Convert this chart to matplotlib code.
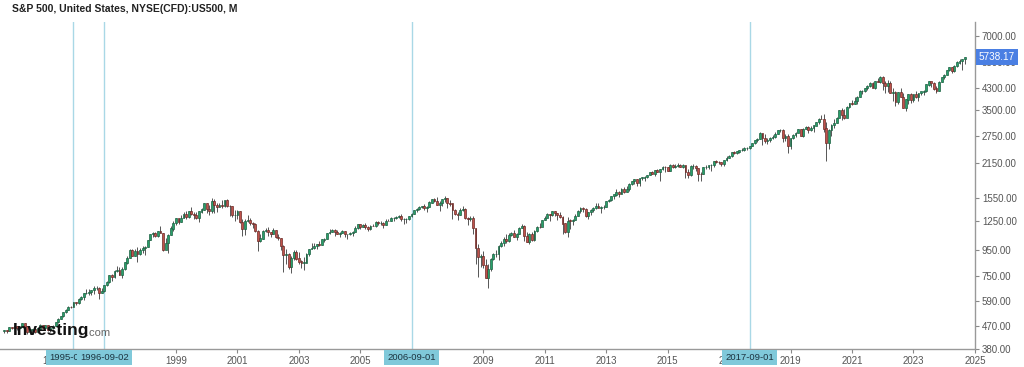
import matplotlib
matplotlib.use('Agg')
import matplotlib.pyplot as plt
import matplotlib.dates as mdates
import matplotlib.transforms as mtrans
import numpy as np
import pandas as pd

plt.rcParams['font.family'] = ['Liberation Sans', 'DejaVu Sans']

# 标题和起始月份
title = 'S&P 500, United States, NYSE(CFD):US500, M'
start_month = '1993-06-01'
first_open = 450.2
last_label = '5738.17'

# 月度收盘价（按年分行）
closes = [
    450.5, 448.1, 463.6, 458.9, 467.8, 461.8, 466.5,
    481.6, 467.1, 445.8, 450.9, 456.5, 444.3, 458.3, 475.5, 462.7, 472.4, 453.7, 459.3,
    470.4, 487.4, 500.7, 514.7, 533.4, 544.8, 562.1, 561.9, 584.4, 581.5, 605.4, 615.9,
    636.0, 640.4, 645.5, 654.2, 669.1, 670.6, 640.0, 652.0, 687.3, 705.3, 757.0, 740.7,
    786.2, 790.8, 757.1, 801.3, 848.3, 885.1, 954.3, 899.5, 947.3, 914.6, 955.4, 970.4,
    980.3, 1049.3, 1101.8, 1111.8, 1090.8, 1133.8, 1120.7, 957.3, 1017.0, 1098.7, 1163.6, 1229.2,
    1279.6, 1238.3, 1286.4, 1335.2, 1301.8, 1372.7, 1328.7, 1320.4, 1282.7, 1362.9, 1388.9, 1469.3,
    1394.5, 1366.4, 1498.6, 1452.4, 1420.6, 1454.6, 1430.8, 1517.7, 1436.5, 1429.4, 1315.0, 1320.3,
    1366.0, 1239.9, 1160.3, 1249.5, 1255.8, 1224.4, 1211.2, 1133.6, 1040.9, 1059.8, 1139.5, 1148.1,
    1130.2, 1106.7, 1147.4, 1076.9, 1067.1, 989.8, 911.6, 916.1, 815.3, 885.8, 936.3, 879.8,
    855.7, 841.2, 848.2, 916.9, 963.6, 974.5, 990.3, 1008.0, 996.0, 1050.7, 1058.2, 1111.9,
    1131.1, 1144.9, 1126.2, 1107.3, 1120.7, 1140.8, 1101.7, 1104.2, 1114.6, 1130.2, 1173.8, 1211.9,
    1181.3, 1203.6, 1180.6, 1156.9, 1191.5, 1191.3, 1234.2, 1220.3, 1228.8, 1207.0, 1249.5, 1248.3,
    1280.1, 1280.7, 1294.8, 1310.6, 1270.1, 1270.2, 1276.7, 1303.8, 1335.9, 1377.9, 1400.6, 1418.3,
    1438.2, 1406.8, 1420.9, 1482.4, 1530.6, 1503.4, 1455.3, 1474.0, 1526.8, 1549.4, 1481.1, 1468.4,
    1378.6, 1330.6, 1322.7, 1385.6, 1400.4, 1280.0, 1267.4, 1282.8, 1166.4, 968.8, 896.2, 903.3,
    825.9, 735.1, 797.9, 872.8, 919.1, 919.3, 987.5, 1020.6, 1057.1, 1036.2, 1095.6, 1115.1,
    1073.9, 1104.5, 1169.4, 1186.7, 1089.4, 1030.7, 1101.6, 1049.3, 1141.2, 1183.3, 1180.6, 1257.6,
    1286.1, 1327.2, 1325.8, 1363.6, 1345.2, 1320.6, 1292.3, 1218.9, 1131.4, 1253.3, 1247.0, 1257.6,
    1312.4, 1365.7, 1408.5, 1397.9, 1310.3, 1362.2, 1379.3, 1406.6, 1440.7, 1412.2, 1416.2, 1426.2,
    1498.1, 1514.7, 1569.2, 1597.6, 1630.7, 1606.3, 1685.7, 1633.0, 1681.6, 1756.5, 1805.8, 1848.4,
    1782.6, 1859.5, 1872.3, 1884.0, 1923.6, 1960.2, 1930.7, 2003.4, 1972.3, 2018.1, 2067.6, 2058.9,
    1995.0, 2104.5, 2067.9, 2085.5, 2107.4, 2063.1, 2103.8, 1972.2, 1920.0, 2079.4, 2080.4, 2043.9,
    1940.2, 1932.2, 2059.7, 2065.3, 2097.0, 2098.9, 2173.6, 2171.0, 2168.3, 2126.2, 2198.8, 2238.8,
    2278.9, 2363.6, 2362.7, 2384.2, 2411.8, 2423.4, 2470.3, 2471.7, 2519.4, 2575.3, 2647.6, 2673.6,
    2823.8, 2713.8, 2640.9, 2648.1, 2705.3, 2718.4, 2816.3, 2901.5, 2914.0, 2711.7, 2760.2, 2506.9,
    2704.1, 2784.5, 2834.4, 2945.8, 2752.1, 2941.8, 2980.4, 2926.5, 2976.7, 3037.6, 3141.0, 3230.8,
    3225.5, 2954.2, 2584.6, 2912.4, 3044.3, 3100.3, 3271.1, 3500.3, 3363.0, 3270.0, 3621.6, 3756.1,
    3714.2, 3811.2, 3972.9, 4181.2, 4204.1, 4297.5, 4395.3, 4522.7, 4307.5, 4605.4, 4567.0, 4766.2,
    4515.6, 4373.9, 4530.4, 4131.9, 4132.2, 3785.4, 4130.3, 3955.0, 3585.6, 3872.0, 4080.1, 3839.5,
    4076.6, 3970.2, 4109.3, 4169.5, 4179.8, 4450.4, 4589.0, 4507.7, 4288.1, 4193.8, 4567.8, 4769.8,
    4845.7, 5096.3, 5254.4, 5035.7, 5277.5, 5460.5, 5522.3, 5648.4, 5738.2,
]

# 月度最高价
highs = [
    453.9, 451.0, 464.2, 463.6, 470.9, 469.0, 471.3,
    482.9, 482.2, 471.1, 453.1, 458.0, 462.6, 459.2, 477.6, 473.0, 473.8, 474.2, 466.0,
    472.8, 488.2, 503.9, 515.0, 533.4, 551.1, 563.8, 563.8, 586.0, 587.3, 608.0, 622.9,
    638.5, 664.6, 661.5, 659.0, 678.5, 680.3, 677.5, 670.7, 690.9, 714.1, 757.0, 761.8,
    794.7, 817.7, 814.9, 812.9, 851.9, 898.7, 961.0, 960.3, 961.3, 983.1, 973.5, 986.2,
    992.7, 1050.0, 1105.7, 1130.5, 1123.1, 1140.0, 1190.6, 1121.3, 1066.1, 1103.8, 1192.0, 1244.9,
    1280.0, 1283.9, 1316.6, 1362.8, 1375.0, 1375.0, 1420.3, 1357.7, 1361.0, 1375.0, 1408.2, 1473.1,
    1478.0, 1444.6, 1552.9, 1527.2, 1481.5, 1474.4, 1517.3, 1525.2, 1530.1, 1448.1, 1438.5, 1389.1,
    1383.4, 1376.4, 1267.4, 1269.3, 1316.0, 1286.6, 1239.8, 1226.3, 1143.2, 1110.6, 1143.0, 1172.5,
    1176.6, 1130.2, 1173.0, 1147.8, 1106.6, 1070.2, 994.5, 965.0, 924.0, 900.9, 954.3, 954.3,
    935.1, 864.6, 895.9, 924.2, 965.4, 1015.3, 1015.4, 1011.0, 1040.3, 1054.0, 1063.7, 1112.0,
    1155.4, 1158.9, 1163.2, 1150.6, 1127.7, 1146.3, 1140.8, 1109.7, 1131.5, 1142.1, 1188.5, 1217.3,
    1217.9, 1212.2, 1229.1, 1191.9, 1199.6, 1219.6, 1245.2, 1245.9, 1243.1, 1233.3, 1270.6, 1275.8,
    1294.9, 1297.6, 1310.9, 1318.2, 1326.7, 1284.0, 1280.4, 1306.7, 1340.3, 1389.5, 1407.9, 1431.8,
    1441.6, 1461.6, 1438.9, 1498.0, 1535.6, 1540.6, 1555.9, 1503.9, 1538.7, 1576.1, 1545.8, 1523.6,
    1471.8, 1396.0, 1359.7, 1404.6, 1440.2, 1404.1, 1292.2, 1313.2, 1303.0, 1167.0, 1007.5, 918.9,
    943.9, 875.0, 832.9, 888.7, 930.2, 956.2, 996.7, 1039.5, 1080.2, 1101.4, 1113.7, 1130.4,
    1150.5, 1112.4, 1180.2, 1219.8, 1206.0, 1131.2, 1120.0, 1129.2, 1149.0, 1196.1, 1227.1, 1262.6,
    1302.7, 1344.1, 1332.3, 1366.0, 1370.6, 1345.2, 1356.5, 1307.4, 1230.7, 1292.7, 1277.6, 1269.4,
    1333.5, 1378.0, 1419.2, 1422.4, 1415.3, 1363.5, 1392.0, 1426.7, 1474.5, 1470.9, 1434.3, 1448.0,
    1509.9, 1530.9, 1570.3, 1597.6, 1687.2, 1654.2, 1698.8, 1709.7, 1729.9, 1775.2, 1813.6, 1849.4,
    1850.8, 1867.9, 1883.9, 1897.3, 1924.0, 1968.2, 1991.4, 2005.0, 2019.3, 2018.2, 2075.8, 2093.6,
    2064.4, 2119.6, 2117.5, 2125.9, 2134.7, 2129.9, 2132.8, 2112.7, 2021.0, 2094.3, 2116.5, 2104.3,
    2038.2, 1962.9, 2072.2, 2111.1, 2103.5, 2120.6, 2177.1, 2193.8, 2187.9, 2169.6, 2214.1, 2277.5,
    2300.9, 2371.5, 2401.0, 2398.2, 2418.7, 2453.8, 2484.0, 2490.9, 2519.4, 2582.0, 2657.7, 2694.6,
    2872.9, 2835.0, 2801.9, 2717.5, 2742.2, 2791.5, 2848.0, 2916.5, 2940.9, 2939.9, 2815.2, 2800.2,
    2708.0, 2813.5, 2860.3, 2949.5, 2954.1, 2964.2, 3027.9, 3013.6, 3021.9, 3050.1, 3154.3, 3247.9,
    3337.8, 3393.5, 3136.7, 2954.9, 3068.7, 3233.1, 3279.0, 3514.8, 3588.1, 3549.9, 3645.9, 3760.2,
    3870.9, 3950.4, 3994.4, 4218.8, 4238.0, 4302.4, 4429.9, 4537.4, 4545.9, 4608.1, 4743.8, 4808.9,
    4818.6, 4595.3, 4637.3, 4593.5, 4307.7, 4177.5, 4140.2, 4325.3, 4119.3, 3905.4, 4080.1, 4100.9,
    4094.2, 4195.4, 4110.8, 4170.0, 4231.1, 4458.5, 4607.1, 4527.4, 4541.3, 4393.6, 4587.6, 4793.3,
    4931.1, 5111.1, 5264.9, 5263.0, 5341.9, 5523.6, 5669.7, 5651.6, 5767.4,
]

# 月度最低价
lows = [
    441.0, 441.4, 447.3, 455.0, 456.8, 454.4, 460.1,
    464.3, 464.3, 436.2, 435.9, 441.1, 441.4, 443.0, 456.8, 459.5, 460.2, 449.1, 442.9,
    457.2, 469.3, 484.5, 500.2, 511.6, 530.6, 545.3, 555.0, 559.7, 573.2, 579.0, 600.4,
    597.3, 633.7, 627.6, 624.7, 630.1, 656.0, 605.9, 639.4, 646.6, 684.7, 703.8, 716.7,
    737.0, 773.4, 756.1, 733.5, 793.2, 833.9, 884.5, 899.2, 898.2, 855.3, 910.9, 924.9,
    912.8, 980.3, 1044.0, 1076.7, 1074.4, 1074.6, 1114.3, 940.0, 959.0, 923.3, 1094.5, 1136.9,
    1205.5, 1211.7, 1234.6, 1282.6, 1277.3, 1281.4, 1325.9, 1268.1, 1269.0, 1233.7, 1341.8, 1385.8,
    1350.1, 1325.1, 1346.6, 1339.4, 1361.1, 1420.6, 1413.9, 1425.4, 1419.4, 1305.8, 1294.9, 1254.1,
    1274.6, 1228.8, 1081.2, 1091.9, 1232.1, 1203.0, 1168.5, 1124.9, 944.8, 1026.8, 1054.3, 1123.0,
    1081.7, 1074.4, 1106.7, 1063.5, 1048.4, 952.9, 775.7, 837.7, 800.6, 768.6, 872.1, 869.5,
    840.3, 806.3, 788.9, 847.9, 902.8, 963.6, 962.1, 960.8, 990.4, 994.8, 1031.2, 1053.4,
    1105.9, 1124.9, 1087.2, 1104.4, 1076.3, 1113.3, 1078.8, 1060.7, 1099.2, 1090.2, 1127.6, 1163.8,
    1163.8, 1180.3, 1163.7, 1137.5, 1146.2, 1188.3, 1183.6, 1201.1, 1205.4, 1168.2, 1201.1, 1246.6,
    1245.7, 1253.6, 1268.0, 1284.0, 1245.3, 1219.3, 1224.5, 1261.3, 1290.9, 1327.1, 1360.9, 1385.9,
    1403.8, 1389.4, 1363.9, 1416.4, 1476.7, 1484.2, 1454.3, 1370.6, 1439.3, 1489.6, 1406.1, 1435.7,
    1270.1, 1316.8, 1256.9, 1323.0, 1373.1, 1272.0, 1200.4, 1247.5, 1106.4, 839.8, 741.0, 815.7,
    804.3, 734.5, 666.8, 783.3, 865.1, 888.9, 869.3, 978.5, 992.3, 1020.2, 1029.4, 1085.9,
    1071.6, 1044.5, 1105.4, 1170.7, 1040.8, 1028.3, 1010.9, 1040.8, 1039.7, 1131.9, 1173.0, 1186.6,
    1257.6, 1294.3, 1249.1, 1302.6, 1311.8, 1258.1, 1282.9, 1101.5, 1114.2, 1074.8, 1158.7, 1202.4,
    1258.9, 1312.4, 1340.0, 1357.4, 1291.9, 1266.7, 1325.4, 1354.7, 1396.6, 1403.3, 1343.4, 1398.1,
    1426.2, 1485.0, 1501.5, 1536.0, 1581.3, 1560.3, 1604.6, 1627.5, 1633.4, 1646.5, 1746.2, 1767.0,
    1737.9, 1737.9, 1834.4, 1814.4, 1859.8, 1915.0, 1930.7, 1904.8, 1964.0, 1820.7, 2001.0, 1972.6,
    1988.1, 1980.9, 2039.7, 2048.4, 2067.9, 2056.3, 2044.0, 1867.0, 1871.9, 1893.7, 2019.4, 1993.3,
    1812.3, 1810.1, 1937.1, 2033.8, 2025.9, 1991.7, 2074.0, 2147.6, 2119.1, 2083.8, 2084.0, 2187.4,
    2245.1, 2271.7, 2322.3, 2328.1, 2352.7, 2405.7, 2407.7, 2417.4, 2446.6, 2515.2, 2566.3, 2605.5,
    2682.4, 2532.7, 2585.9, 2553.8, 2594.6, 2691.0, 2698.9, 2795.1, 2864.1, 2603.5, 2631.1, 2346.6,
    2443.9, 2681.8, 2722.3, 2848.6, 2750.5, 2728.8, 2952.6, 2822.1, 2891.9, 2855.9, 3050.7, 3070.3,
    3214.6, 2855.8, 2191.9, 2447.5, 2766.6, 2965.7, 3101.2, 3284.5, 3209.5, 3233.9, 3279.7, 3594.0,
    3662.7, 3725.6, 3723.3, 3955.5, 4056.9, 4164.4, 4233.1, 4367.7, 4305.9, 4278.9, 4560.0, 4495.1,
    4222.6, 4114.7, 4157.9, 4124.3, 3810.3, 3636.9, 3721.6, 3954.5, 3584.1, 3491.6, 3698.2, 3764.5,
    3794.3, 3943.1, 3808.9, 4049.4, 4048.3, 4166.0, 4385.1, 4335.3, 4238.6, 4103.8, 4194.0, 4546.5,
    4682.1, 4853.4, 5056.8, 4953.6, 5011.1, 5234.3, 5390.9, 5119.3, 5402.6,
]

# 竖线标记日期
marker_dates = ['1995-09-01', '1996-09-02', '2006-09-01', '2017-09-01']

# 坐标轴刻度
y_ticks = [380, 470, 590, 750, 950, 1250, 1550, 2150, 2750, 3500, 4300, 5500, 7000]
x_years = list(range(1995, 2027, 2))


def main():
    fig = plt.figure(figsize=(10.24, 3.67), dpi=100)
    ax = fig.add_axes([0.0, 1 - 349 / 367, 975 / 1024, 327 / 367])

    dates = pd.date_range(start_month, periods=len(closes), freq='MS')
    x = mdates.date2num(dates.to_pydatetime())
    c = np.array(closes)
    o = np.concatenate([[first_open], c[:-1]])
    h = np.array(highs)
    l = np.array(lows)
    up = c >= o

    # 影线
    ax.vlines(x, l, h, color='#555555', lw=0.7, zorder=2)
    # 实体
    body_bot = np.minimum(o, c)
    body_h = np.abs(c - o) + 0.001 * body_bot
    ax.bar(x[up], body_h[up], bottom=body_bot[up], width=22,
           color='#27a06a', edgecolor='#1d5f42', lw=0.5, zorder=3)
    ax.bar(x[~up], body_h[~up], bottom=body_bot[~up], width=22,
           color='#c0524b', edgecolor='#6a2b27', lw=0.5, zorder=3)

    # 竖线和日期标签
    for d in marker_dates:
        xd = mdates.date2num(pd.Timestamp(d).to_pydatetime())
        ax.axvline(xd, color='#a9d8e6', lw=1.0, zorder=1)
        ax.text(xd, -0.012, d, transform=mtrans.blended_transform_factory(ax.transData, ax.transAxes),
                ha='center', va='top', fontsize=6.8, color='#1c3440', clip_on=False, zorder=5,
                bbox=dict(boxstyle='square,pad=0.35', fc='#80c9da', ec='none'))

    ax.set_yscale('log')
    ax.set_ylim(379, 7970)
    ax.set_xlim(mdates.date2num(pd.Timestamp('1993-04-11').to_pydatetime()),
                mdates.date2num(pd.Timestamp('2025-01-01').to_pydatetime()))

    ax.yaxis.tick_right()
    ax.set_yticks(y_ticks)
    ax.set_yticklabels([f'{v:.2f}' for v in y_ticks])
    ax.minorticks_off()
    ax.set_xticks([mdates.date2num(pd.Timestamp(f'{yr}-01-01').to_pydatetime()) for yr in x_years])
    ax.set_xticklabels([str(yr) for yr in x_years])
    ax.tick_params(axis='both', colors='#888888', labelcolor='#555555', labelsize=7,
                   length=3, width=0.8, pad=2)

    for s in ['top', 'left']:
        ax.spines[s].set_visible(False)
    for s in ['bottom', 'right']:
        ax.spines[s].set_color('#999999')
        ax.spines[s].set_linewidth(1.0)

    # 当前价格标签
    ax.text(1.004, closes[-1], last_label,
            transform=mtrans.blended_transform_factory(ax.transAxes, ax.transData),
            ha='left', va='center', fontsize=7.2, color='white', clip_on=False, zorder=6,
            bbox=dict(boxstyle='square,pad=0.3', fc='#4a7fe3', ec='none'))

    # 标题和水印
    fig.text(12 / 1024, 1 - 9 / 367, title, ha='left', va='center',
             fontsize=7.5, fontweight='bold', color='#222222')
    fig.text(13 / 1024, 1 - 331 / 367, 'Investing', ha='left', va='center',
             fontsize=12.5, fontweight='bold', color='#111111')
    fig.text(86 / 1024, 1 - 333 / 367, '.com', ha='left', va='center',
             fontsize=8, color='#666666')

    plt.savefig('out.png', dpi=100)


if __name__ == "__main__":
    main()
